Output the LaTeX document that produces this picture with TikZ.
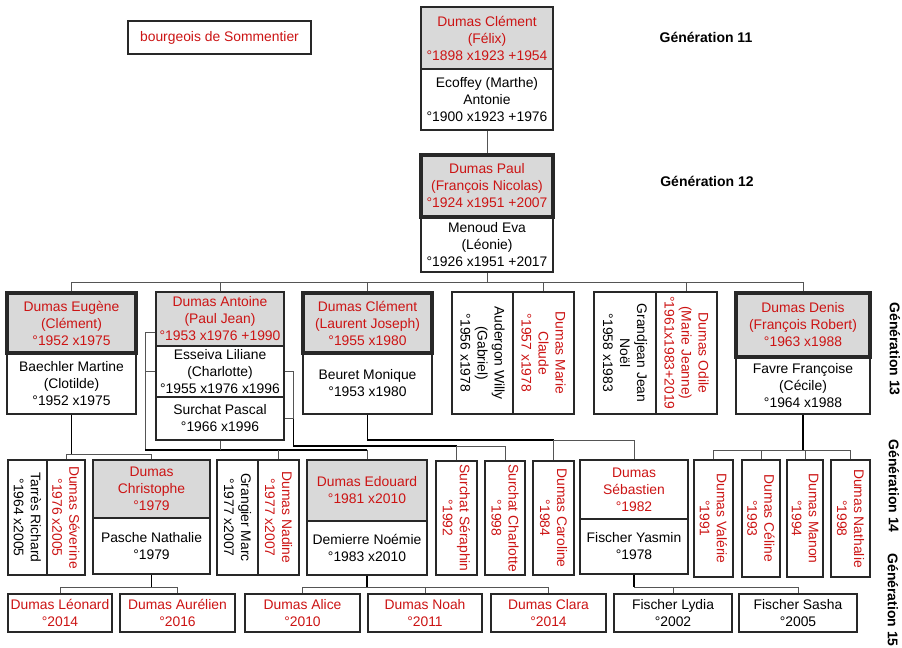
\documentclass[tikz,border=0pt]{standalone}
\usepackage{fontspec}
\setmainfont{Liberation Sans}
\usetikzlibrary{calc}

\definecolor{dred}{RGB}{204,20,20}
\definecolor{headgray}{RGB}{217,217,217}
\definecolor{boxline}{RGB}{40,40,40}
\definecolor{kidline}{RGB}{85,85,85}

\newcommand\persfont{\fontsize{10.4}{12.75}\selectfont}
\newcommand\genfont{\fontsize{10.5}{12}\selectfont\bfseries}

% \pbox[options]{name}{x1}{y1}{x2}{y2}{text}: a box given by its corners (pixel units)
\newcommand\pbox[7][]{%
  \pgfmathsetmacro\pbw{(#5-#3)*0.75}%
  \pgfmathsetmacro\pbh{(#6-#4)*0.75}%
  \node[pbase,#1,minimum width=\pbw pt,minimum height=\pbh pt] (#2)
    at ({(#3+#5)/2},{(#4+#6)/2}) {#7};}

\tikzset{
  pbase/.style={draw=boxline, line width=0.8pt, inner sep=0pt, align=center, font=\persfont},
  head/.style={fill=headgray, text=dred},
  heavy/.style={line width=2.6pt},
  redtxt/.style={text=dred},
  rot/.style={rotate=-90, align=center, font=\persfont, inner sep=0pt},
  desc/.style={line width=1.1pt, draw=black},
  kid/.style={line width=0.6pt, draw=kidline},
  genlbl/.style={font=\genfont, inner sep=0pt}
}

\begin{document}
\begin{tikzpicture}[x=0.75pt,y=-0.75pt]
\fill[white] (0,0) rectangle (902,647);
\useasboundingbox (0,0) rectangle (902,647);

% title box
\pbox[redtxt]{title}{128}{21}{311}{54}{bourgeois de Sommentier}

% generation labels
\node[genlbl] (g11) at (706,37) {Génération 11};
\node[genlbl] (g12) at (707,181) {Génération 12};
\node[genlbl, rotate=-90] (g13) at (895,349) {Génération 13};
\node[genlbl, rotate=-90] (g14) at (894,486) {Génération 14};
\node[genlbl, rotate=-90] (g15) at (893,600) {Génération 15};

% ---------- generation 11 ----------
\pbox{s11}{421}{69}{553}{130}{Ecoffey (Marthe)\\Antonie\\°1900 x1923 +1976}
\pbox[head]{c11}{421}{7}{553}{69}{Dumas Clément\\(Félix)\\°1898 x1923 +1954}

% ---------- generation 12 ----------
\pbox{s12}{421}{217}{553}{272}{Menoud Eva\\(Léonie)\\°1926 x1951 +2017}
\pbox[head,heavy]{c12}{421}{155}{553}{217}{Dumas Paul\\(François Nicolas)\\°1924 x1951 +2007}

% ---------- generation 13 ----------
\pbox{eugs}{7}{353}{136}{414}{Baechler Martine\\(Clotilde)\\°1952 x1975}
\pbox[head,heavy]{eug}{7}{293}{136}{353}{Dumas Eugène\\(Clément)\\°1952 x1975}

\pbox[head]{ant}{156}{292}{284}{346}{Dumas Antoine\\(Paul Jean)\\°1953 x1976 +1990}
\pbox{ess}{156}{346}{284}{397}{Esseiva Liliane\\(Charlotte)\\°1955 x1976 x1996}
\pbox{pas}{156}{397}{284}{440}{Surchat Pascal\\°1966 x1996}

\pbox{cl2s}{303}{353}{432}{414}{Beuret Monique\\°1953 x1980}
\pbox[head,heavy]{cl2}{303}{293}{432}{353}{Dumas Clément\\(Laurent Joseph)\\°1955 x1980}

\pbox{aud}{452}{292}{513}{414}{}
\pbox{mcl}{513}{292}{574}{414}{}
\node[rot] (audt) at (aud) {Audergon Willy\\(Gabriel)\\°1956 x1978};
\node[rot, text=dred] (mclt) at (mcl) {Dumas Marie\\Claude\\°1957 x1978};

\pbox{gra}{594}{292}{656}{414}{}
\pbox{odi}{656}{292}{717}{414}{}
\node[rot] (grat) at (gra) {Grandjean Jean\\Noël\\°1958 x1983};
\node[rot, text=dred] (odit) at (odi) {Dumas Odile\\(Marie Jeanne)\\°1961x1983+2019};

\pbox{dens}{736}{357}{870}{414}{Favre Françoise\\(Cécile)\\°1964 x1988}
\pbox[head,heavy]{den}{736}{293}{870}{357}{Dumas Denis\\(François Robert)\\°1963 x1988}

% ---------- generation 14 ----------
\pbox{tar}{8}{460}{47}{575}{}
\pbox{sev}{47}{460}{85}{575}{}
\node[rot] (tart) at (tar) {Tarrès Richard\\°1964 x2005};
\node[rot, text=dred] (sevt) at (sev) {Dumas Séverine\\°1976 x2005};

\pbox{chrs}{93}{518}{210}{574}{Pasche Nathalie\\°1979}
\pbox[head]{chr}{93}{460}{210}{518}{Dumas\\Christophe\\°1979}

\pbox{grm}{217}{460}{258}{575}{}
\pbox{nad}{258}{460}{299}{575}{}
\node[rot] (grmt) at (grm) {Grangier Marc\\°1977 x2007};
\node[rot, text=dred] (nadt) at (nad) {Dumas Nadine\\°1977 x2007};

\pbox{edos}{307}{521}{427}{575}{Demierre Noémie\\°1983 x2010}
\pbox[head]{edo}{307}{460}{427}{521}{Dumas Edouard\\°1981 x2010}

\pbox{ser}{436}{461}{477}{575}{}
\node[rot, text=dred] (sert) at (ser) {Surchat Séraphin\\°1992};
\pbox{cha}{485}{461}{525}{575}{}
\node[rot, text=dred] (chat) at (cha) {Surchat Charlotte\\°1998};
\pbox{car}{533}{461}{574}{575}{}
\node[rot, text=dred] (cart) at (car) {Dumas Caroline\\°1984};

\pbox[redtxt]{seb}{580}{460}{688}{519}{Dumas\\Sébastien\\°1982}
\pbox{yas}{580}{519}{688}{574}{Fischer Yasmin\\°1978}

\pbox{val}{694}{460}{733}{577}{}
\node[rot, text=dred] (valt) at (val) {Dumas Valérie\\°1991};
\pbox{cel}{742}{460}{780}{577}{}
\node[rot, text=dred] (celt) at (cel) {Dumas Céline\\°1993};
\pbox{man}{787}{460}{823}{577}{}
\node[rot, text=dred] (mant) at (man) {Dumas Manon\\°1994};
\pbox{nat}{831}{460}{870}{577}{}
\node[rot, text=dred] (natt) at (nat) {Dumas Nathalie\\°1998};

% ---------- generation 15 ----------
\pbox[redtxt]{leo}{8}{594}{112}{632}{Dumas Léonard\\°2014}
\pbox[redtxt]{aur}{120}{594}{235}{632}{Dumas Aurélien\\°2016}
\pbox[redtxt]{ali}{245}{594}{360}{632}{Dumas Alice\\°2010}
\pbox[redtxt]{noa}{368}{594}{482}{632}{Dumas Noah\\°2011}
\pbox[redtxt]{cla}{491}{594}{606}{632}{Dumas Clara\\°2014}
\pbox{lyd}{614}{594}{732}{632}{Fischer Lydia\\°2002}
\pbox{sas}{739}{594}{857}{632}{Fischer Sasha\\°2005}

% ---------- connectors ----------
% 11 -> 12
\draw[kid] (s11.south) -- (c12.north);

% 12 -> 13
\coordinate (b13) at (0,282);
\draw[kid] (s12.south) -- (s12.south |- b13);
\draw[kid] (eug.north |- b13) -- (den.north |- b13);
\foreach \n in {eug,ant,cl2,mcl,odi,den}
  \draw[kid] (\n.north) -- (\n.north |- b13);

% Eugène -> Séverine, Christophe
\coordinate (bE) at (0,454);
\draw[desc] (eugs.south) -- (eugs.south |- bE);
\draw[kid] (sev.north |- bE) -- (chr.north |- bE);
\foreach \n in {sev,chr}
  \draw[kid] (\n.north) -- (\n.north |- bE);

% Antoine and Esseiva -> Nadine, Edouard
\coordinate (bA) at (0,450);
\coordinate (aL) at ($(ant.south west)+(0,-14)$);
\draw[kid] (aL) -- ++(-10,0) coordinate (aLL) -- (aLL |- bA);
\draw[kid] (ess.west) -- (ess.west -| aLL);
\draw[desc] (aLL |- bA) -- (edo.north |- bA);
\draw[kid] (pas.south) -- (pas.south |- bA);
\foreach \n in {nad,edo}
  \draw[kid] (\n.north) -- (\n.north |- bA);

% Esseiva and Surchat -> Séraphin, Charlotte
\coordinate (bS) at (0,446);
\draw[kid] (ess.east) -- ++(9,0) coordinate (eR) -- (eR |- pas.east) -- (pas.east);
\draw[desc] (eR |- pas.east) -- (eR |- bS) -- (ser.north |- bS);
\draw[kid] (ser.north |- bS) -- (cha.north |- bS);
\foreach \n in {ser,cha}
  \draw[kid] (\n.north) -- (\n.north |- bS);

% Clément and Beuret -> Caroline, Sébastien
\coordinate (bC) at (0,440);
\draw[desc] (cl2s.south) -- (cl2s.south |- bC) -- (car.north |- bC);
\draw[kid] (car.north |- bC) -- (seb.north |- bC);
\foreach \n in {car,seb}
  \draw[kid] (\n.north) -- (\n.north |- bC);

% Denis and Favre -> four daughters
\coordinate (bD) at (0,450);
\draw[desc] (dens.south) -- (dens.south |- bD);
\draw[kid] (val.north |- bD) -- (nat.north |- bD);
\foreach \n in {val,cel,man,nat}
  \draw[kid] (\n.north) -- (\n.north |- bD);

% generation 14 -> 15
\coordinate (b15) at (0,587);
\draw[desc] (chrs.south) -- (chrs.south |- b15);
\draw[kid] (leo.north |- b15) -- (aur.north |- b15);
\foreach \n in {leo,aur}
  \draw[kid] (\n.north) -- (\n.north |- b15);

\draw[desc] (edos.south) -- (edos.south |- b15);
\draw[kid] (ali.north |- b15) -- (cla.north |- b15);
\foreach \n in {ali,noa,cla}
  \draw[kid] (\n.north) -- (\n.north |- b15);

\draw[desc] (yas.south) -- (yas.south |- b15);
\draw[kid] (yas.south |- b15) -- (sas.north |- b15);
\foreach \n in {lyd,sas}
  \draw[kid] (\n.north) -- (\n.north |- b15);
\end{tikzpicture}
\end{document}
